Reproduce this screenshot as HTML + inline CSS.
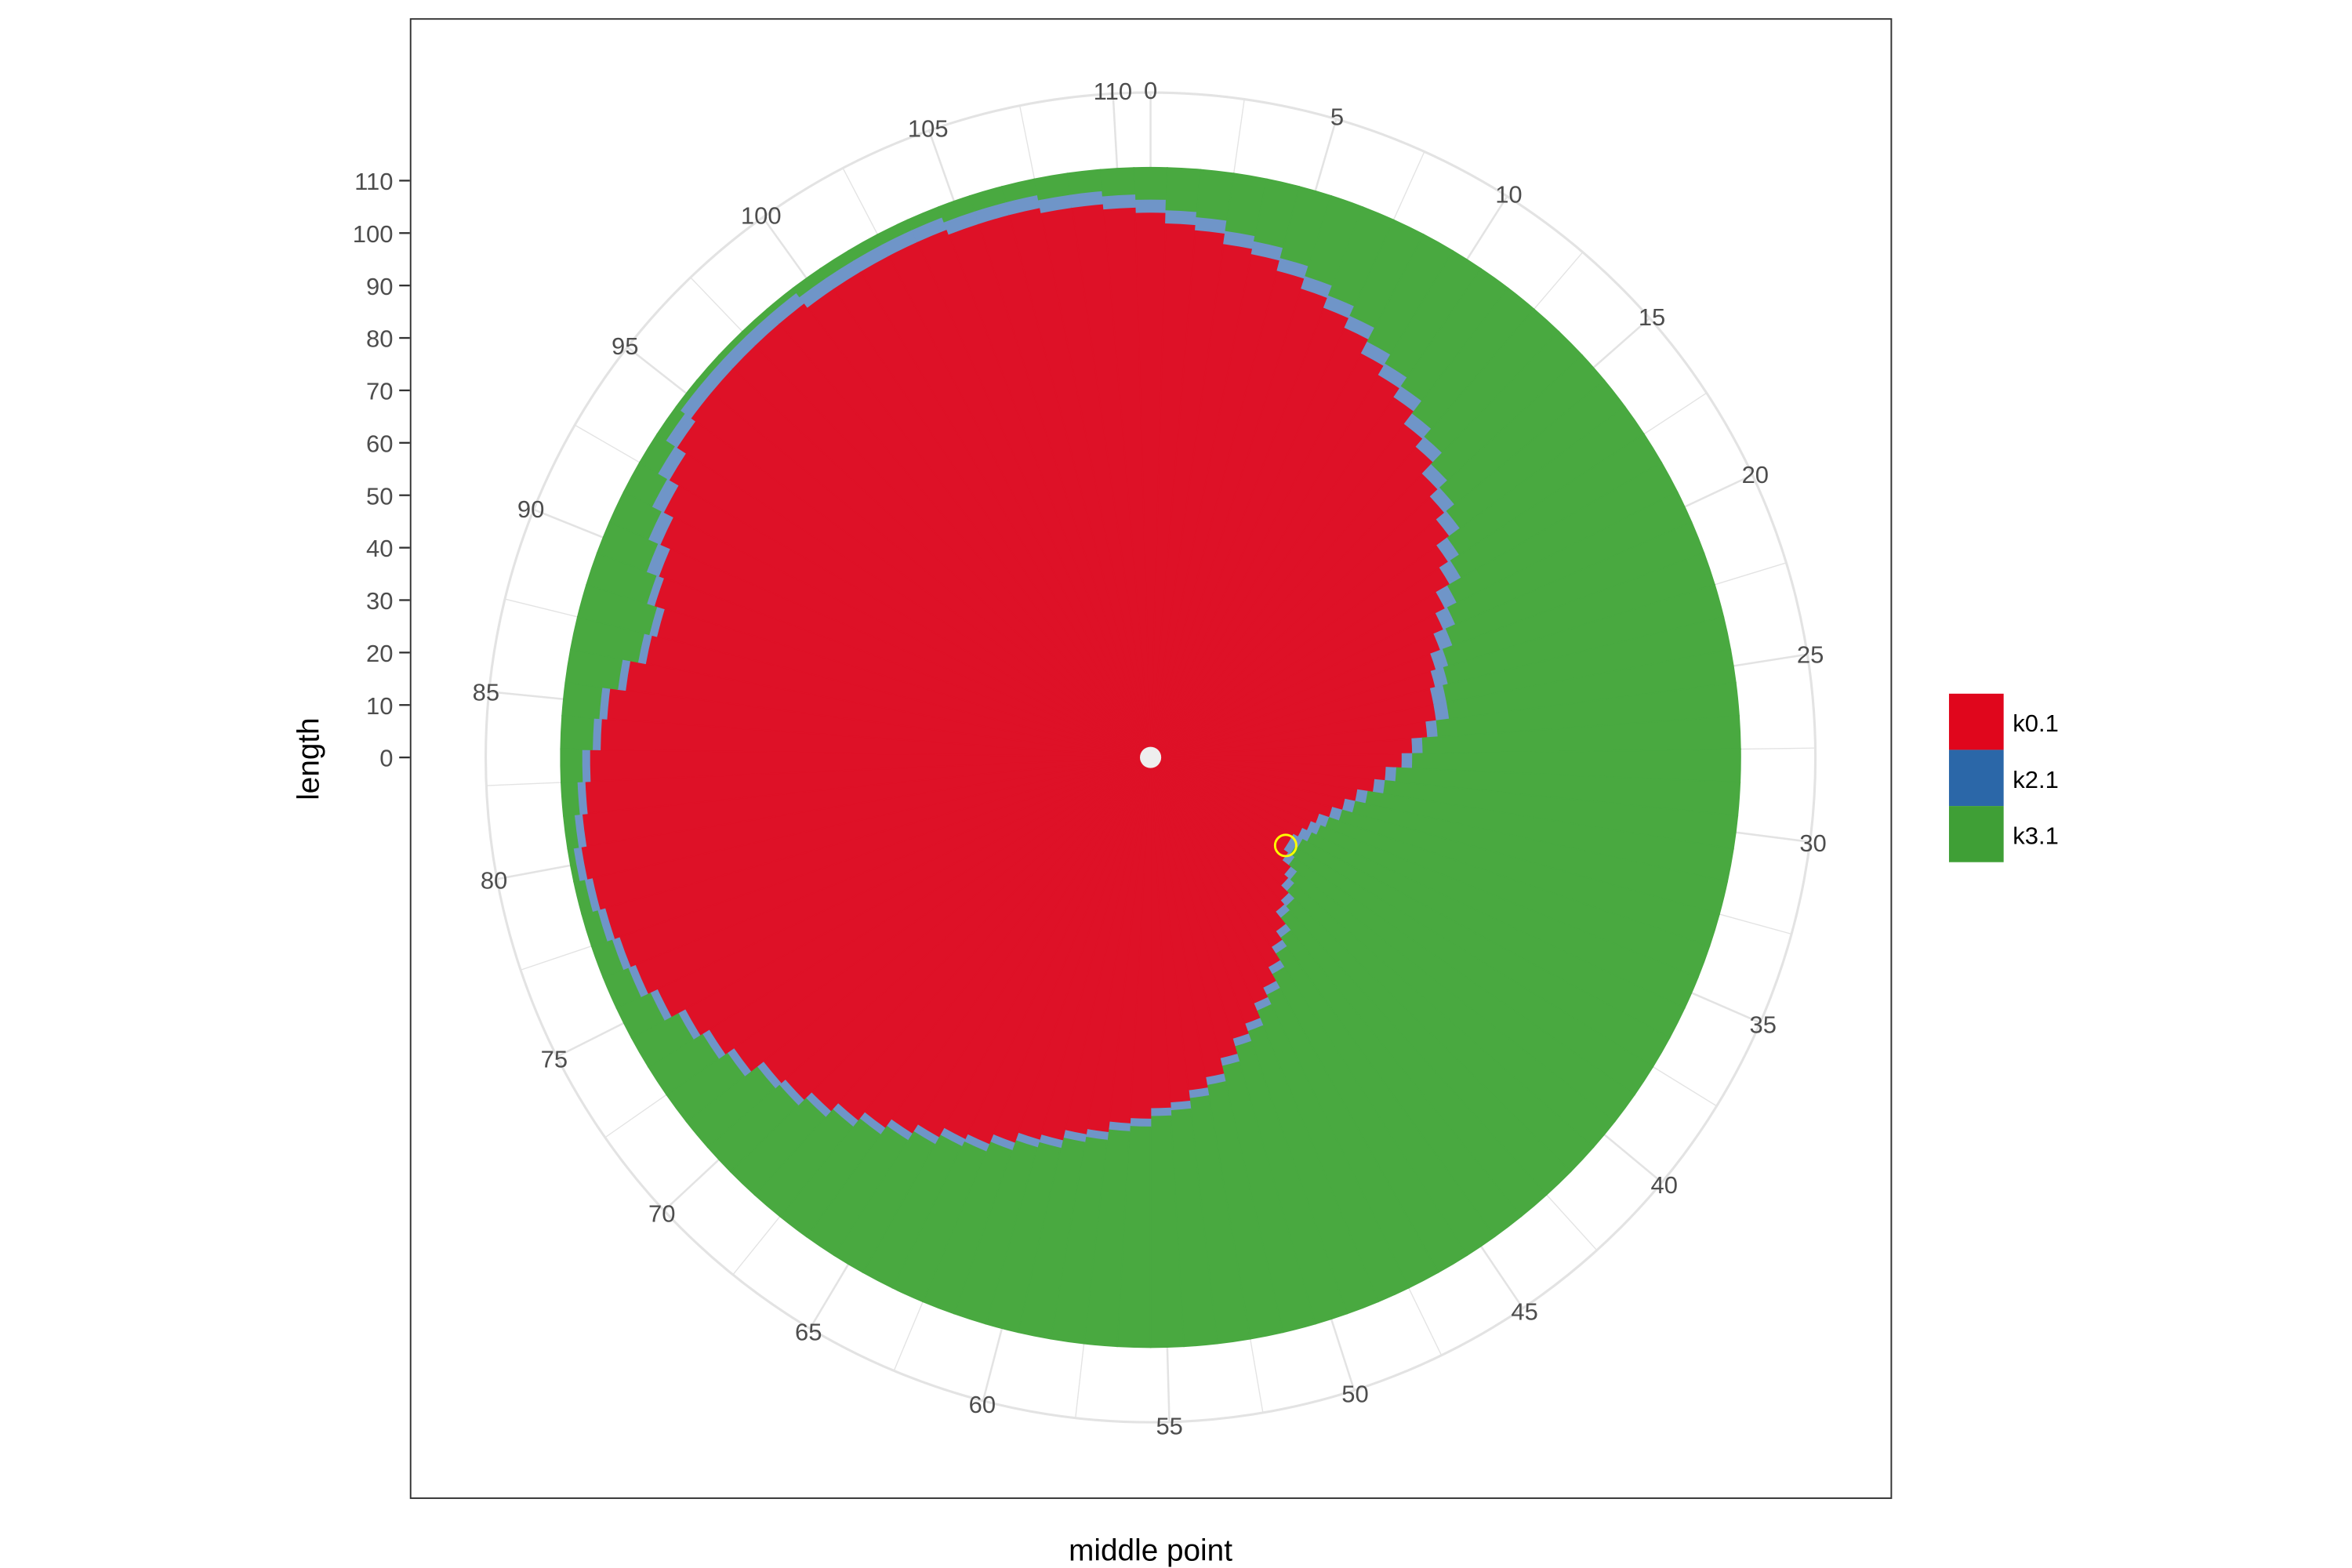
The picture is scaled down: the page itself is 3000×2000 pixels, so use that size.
<!DOCTYPE html>
<html><head><meta charset="utf-8"><style>html,body{margin:0;padding:0;background:#fff}svg{display:block}</style></head>
<body>
<svg id="chart" width="3000" height="2000" viewBox="0 0 1549.5 1033" xmlns="http://www.w3.org/2000/svg" font-family="Liberation Sans, Arial, sans-serif">
<rect x="0" y="0" width="1549.5" height="1033" fill="#fff"/>
<g id="grid"></g>
<g id="bars"></g>
<g id="thetaLabels"></g>
<circle cx="758" cy="499" r="7" fill="#eeeeee"/>
<circle cx="847" cy="557" r="7" fill="none" stroke="#ffff00" stroke-width="1.5"/>
<rect x="270.5" y="12.5" width="975.5" height="974.5" fill="none" stroke="#333" stroke-width="1"/>
<g id="yaxis"></g>
<text x="210" y="500" font-size="20" fill="#000" text-anchor="middle" transform="rotate(-90 210 500)">length</text>
<text x="758" y="1028" font-size="20" fill="#000" text-anchor="middle">middle point</text>
<g>
<rect x="1284" y="457" width="36" height="37" fill="#E0061C"/>
<rect x="1284" y="494" width="36" height="37" fill="#2B67A8"/>
<rect x="1284" y="531" width="36" height="37" fill="#3F9F36"/>
<text x="1326" y="482" font-size="16" fill="#000">k0.1</text>
<text x="1326" y="519" font-size="16" fill="#000">k2.1</text>
<text x="1326" y="556" font-size="16" fill="#000">k3.1</text>
</g>
</svg>
<script>
const red = [104,102,101,99,98,96,94,92,90,87,85,83,80,78,75,73,71,68,66,63,61,59,57,56,55,55,53,50,48,45,43,40,38,36,34,33,32,31,31,32,34,35,37,38,41,43,46,49,51,54,56,59,62,64,66,67,69,70,72,73,75,76,78,80,81,83,85,87,89,91,93,94,97,99,101,104,106,107,108,109,110,109,108,107,105,104,101,98,97,99,100,102,104,106,108,109,109,109,109,109,108,108,108,108,108,107,107,107,106,106,105];
const blue = [2.5,2.5,2.5,2.5,2.5,2.5,2.5,2.5,2.5,2.5,2.5,2.5,2.5,2.5,2.5,2.5,2.5,2.5,2.5,2.5,2.5,2.5,2.5,2.5,2.5,2.5,2,2,2,2,2,2,2,2,2,2,2,2,1.5,1.5,1.5,1.5,1.5,1.5,1.5,1.5,1.5,1.5,1.5,1.5,1.5,1.5,1.5,1.5,1.5,1.5,1.5,1.5,1.5,1.5,1.5,1.5,1.5,1.5,1.5,1.5,1.5,1.5,1.5,1.5,1.5,1.5,1.5,1.5,1.5,1.5,1.5,1.5,1.5,1.5,1.5,1.5,1.5,1.5,1.5,1.5,1.5,1.5,1.5,1.5,2.5,2.5,2.5,2.5,2.5,2.5,2.5,2.5,2.5,2.5,2.5,2.5,2.5,2.5,2.5,2.5,2.5,2.5,2.5,2.5,2.5];
const green = [6,8,9,11,12,14,16,18,20,23,25,27,30,32,35,37,39,42,44,47,49,51,53,54,55,55,57.5,60.5,62.5,65.5,67.5,70.5,72.5,74.5,76.5,77.5,78.5,79.5,80,79,77,76,74,73,70,68,65,62,60,57,55,52,49,47,45,44,42,41,39,38,36,35,33,31,30,28,26,24,22,20,18,17,14,12,10,7,5,4,3,2,1,2,3,4,6,7,10,13,14,12,10,8,6,4,2,1,1,1,1,1,2,2,2,2,2,3,3,3,4,4,5];
const yTicks = [0,10,20,30,40,50,60,70,80,90,100,110];
const thetaTicks = [0,5,10,15,20,25,30,35,40,45,50,55,60,65,70,75,80,85,90,95,100,105,110];
const thetaMax = 111;
const CX = 758, CY = 499, RING = 438;
const NS = 'http://www.w3.org/2000/svg';
function rScale(v){ return v*380/110; }
function aScale(t){ return t/thetaMax*2*Math.PI; }
function pt(t,r){ const a=aScale(t); return [CX+r*Math.sin(a), CY-r*Math.cos(a)]; }
function sector(t0,t1,v0,v1){
  const r0=rScale(v0), r1=rScale(v1);
  const p1=pt(t0,r1), p2=pt(t1,r1), p3=pt(t1,r0), p4=pt(t0,r0);
  return `M${p1[0]},${p1[1]}A${r1},${r1} 0 0 1 ${p2[0]},${p2[1]}L${p3[0]},${p3[1]}A${r0},${r0} 0 0 0 ${p4[0]},${p4[1]}Z`;
}
const grid=document.getElementById('grid');
for(let k=0;k<thetaMax/2.5;k++){
  const t=k*2.5; const major=(k%2===0);
  const p=pt(t,RING);
  const l=document.createElementNS(NS,'line');
  
  
  l.setAttribute('x1',CX);l.setAttribute('y1',CY);l.setAttribute('x2',p[0]);l.setAttribute('y2',p[1]);
  l.setAttribute('stroke','#e3e3e3');l.setAttribute('stroke-width',major?1.3:0.7);
  grid.appendChild(l);
}
const ring=document.createElementNS(NS,'circle');


ring.setAttribute('cx',CX);ring.setAttribute('cy',CY);ring.setAttribute('r',RING);
ring.setAttribute('fill','none');ring.setAttribute('stroke','#e3e3e3');ring.setAttribute('stroke-width',1.6);
grid.appendChild(ring);
const bars=document.getElementById('bars');
const cols=['#DE1127','#6F95C8','#49A940'];
for(let i=0;i<red.length;i++){
  const segs=[[0,red[i]],[red[i],red[i]+blue[i]],[red[i]+blue[i],red[i]+blue[i]+green[i]]];
  const names=['bar-k0.1','bar-k2.1','bar-k3.1'];
  for(let s=0;s<3;s++){
    const p=document.createElementNS(NS,'path');
    
    
    p.setAttribute('d',sector(i-0.5,i+0.5,segs[s][0],segs[s][1]));
    p.setAttribute('fill',cols[s]);p.setAttribute('stroke',cols[s]);p.setAttribute('stroke-width',0.8);
    bars.appendChild(p);
  }
}
const tl=document.getElementById('thetaLabels');
thetaTicks.forEach(t=>{
  const p=pt(t,RING+2);
  const tx=document.createElementNS(NS,'text');
  
  
  tx.setAttribute('x',p[0]);tx.setAttribute('y',p[1]+6);
  tx.setAttribute('text-anchor','middle');tx.setAttribute('font-size','16');tx.setAttribute('fill','#4d4d4d');
  tx.textContent=t; tl.appendChild(tx);
});
const ya=document.getElementById('yaxis');
yTicks.forEach(v=>{
  const y=CY-rScale(v);
  const l=document.createElementNS(NS,'line');
  
  
  l.setAttribute('x1',263);l.setAttribute('x2',270);l.setAttribute('y1',y);l.setAttribute('y2',y);
  l.setAttribute('stroke','#333');l.setAttribute('stroke-width',1.2);
  ya.appendChild(l);
  const tx=document.createElementNS(NS,'text');
  
  
  tx.setAttribute('x',259);tx.setAttribute('y',y+6);tx.setAttribute('text-anchor','end');
  tx.setAttribute('font-size','16');tx.setAttribute('fill','#4d4d4d');
  tx.textContent=v; ya.appendChild(tx);
});
</script>
</body></html>
